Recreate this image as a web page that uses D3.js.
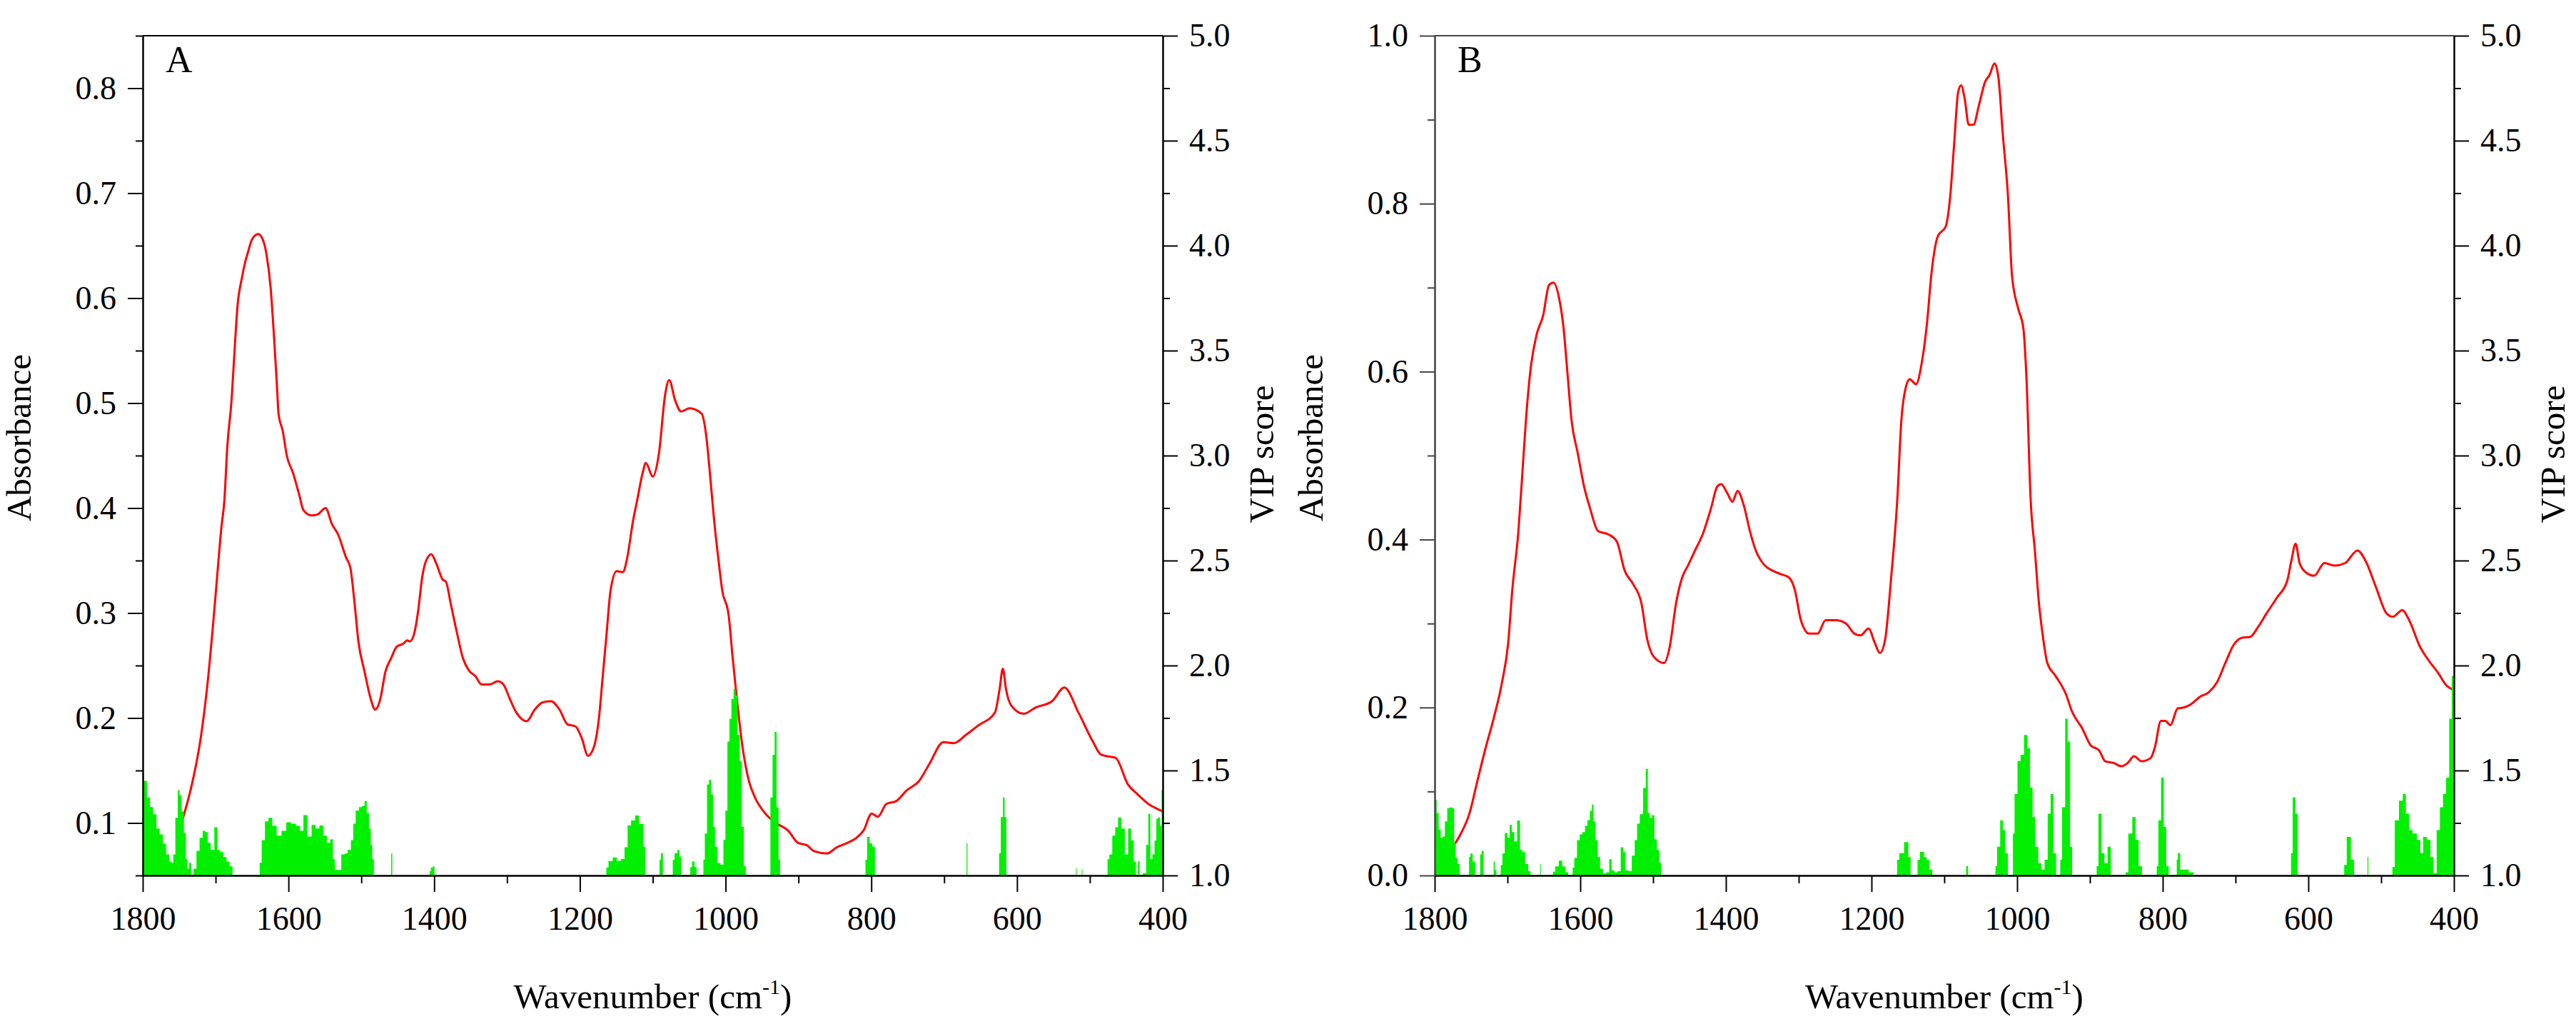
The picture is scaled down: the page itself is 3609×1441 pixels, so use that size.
<!DOCTYPE html>
<html>
<head>
<meta charset="utf-8">
<script src="https://d3js.org/d3.v7.min.js"></script>
<style>
  body { margin: 0; background: #fff; }
  text { font-family: "Liberation Serif", "Times New Roman", serif; }
</style>
</head>
<body>
<div id="chart"></div>
<script>
// ---- data: [wavenumber cm-1, value] ----
var specA = [[1752,0.088],[1743,0.109],[1734.5,0.131],[1720,0.183],[1709,0.247],[1703.5,0.289],[1698,0.334],[1692,0.382],[1688,0.407],[1684,0.458],[1678,0.504],[1674,0.550],[1670,0.592],[1664,0.619],[1659.5,0.634],[1655.5,0.644],[1650,0.656],[1641.5,0.661],[1636,0.657],[1630,0.641],[1624.5,0.610],[1620,0.565],[1616,0.519],[1613.5,0.489],[1608,0.474],[1602,0.449],[1594,0.434],[1585,0.412],[1579.5,0.398],[1568.5,0.393],[1560,0.394],[1549,0.400],[1540.5,0.385],[1532,0.375],[1521,0.353],[1515,0.343],[1509.5,0.311],[1504,0.273],[1495.5,0.244],[1487,0.218],[1481,0.208],[1474,0.218],[1467,0.244],[1459,0.257],[1451.5,0.268],[1442,0.271],[1437,0.274],[1433.5,0.273],[1428,0.279],[1422,0.302],[1416.5,0.334],[1411,0.350],[1404,0.356],[1397,0.347],[1388.5,0.332],[1384,0.330],[1377,0.308],[1369,0.282],[1360.5,0.257],[1352,0.245],[1343.5,0.240],[1335,0.232],[1324,0.232],[1312.5,0.235],[1305,0.232],[1296,0.218],[1287,0.205],[1273,0.197],[1262,0.208],[1251,0.215],[1239.5,0.216],[1228,0.208],[1217,0.194],[1206,0.192],[1197,0.180],[1189,0.164],[1180.5,0.173],[1173.5,0.202],[1169,0.237],[1163.5,0.279],[1158,0.321],[1149.5,0.340],[1141,0.339],[1135.5,0.351],[1127,0.388],[1121.5,0.407],[1114,0.433],[1109.5,0.443],[1100,0.430],[1091.5,0.452],[1083,0.508],[1077.5,0.522],[1069,0.502],[1061,0.492],[1049.5,0.495],[1033,0.490],[1027,0.471],[1021.5,0.433],[1016,0.390],[1010,0.352],[1004.5,0.321],[996,0.299],[990.5,0.259],[985,0.221],[976.5,0.171],[968,0.140],[959.5,0.124],[945.5,0.109],[928.5,0.099],[914.5,0.093],[900.5,0.081],[889,0.079],[878,0.073],[861,0.071],[847,0.077],[833,0.081],[822,0.085],[810.5,0.093],[799.5,0.109],[791,0.106],[779.5,0.118],[765.5,0.121],[751.5,0.131],[734.5,0.140],[720.5,0.156],[701,0.177],[687,0.176],[670,0.184],[653,0.193],[630.5,0.205],[624,0.227],[619.5,0.247],[615,0.227],[608,0.212],[591,0.204],[574.5,0.210],[552,0.216],[535,0.229],[515.5,0.205],[495.5,0.177],[484.5,0.165],[464.5,0.162],[448,0.137],[434,0.127],[419.5,0.118],[403,0.112],[400,0.111]];

var vipA = [[1800,1.485],[1796.5,1.451],[1792,1.372],[1788,1.326],[1783.5,1.292],[1779,1.224],[1774.5,1.196],[1770,1.151],[1766,1.100],[1761.5,1.066],[1759,1.060],[1757,1.100],[1753.5,1.275],[1750.5,1.406],[1748.5,1.383],[1745,1.304],[1742,1.202],[1739.5,1.077],[1737.5,1.032],[1735,1.060],[1732,1.003],[1728.5,1.032],[1724,1.117],[1720,1.179],[1715.5,1.213],[1712.5,1.207],[1709,1.156],[1704.5,1.122],[1699,1.230],[1696,1.122],[1691.5,1.111],[1687,1.088],[1683,1.066],[1678.5,1.043],[1675,1.0],
  [1640,1.0],[1639,1.060],[1634.5,1.168],[1630,1.258],[1625,1.275],[1619.5,1.236],[1613,1.190],[1606,1.213],[1600,1.253],[1593,1.247],[1586.5,1.236],[1582,1.213],[1577,1.287],[1571,1.185],[1565.5,1.241],[1560,1.224],[1555,1.238],[1549.5,1.190],[1545,1.156],[1540.5,1.173],[1537.5,1.077],[1535,1.026],[1530,1.026],[1525,1.100],[1521,1.105],[1516.5,1.122],[1512,1.168],[1510,1.247],[1505.5,1.309],[1501,1.326],[1497,1.332],[1494,1.355],[1491,1.298],[1488,1.224],[1486,1.145],[1484,1.077],[1481.5,1.0],
  [1459.5,1.0],[1458.5,1.105],[1456.5,1.0],
  [1406.5,1.0],[1406,1.02],[1403,1.037],[1400.5,1.043],[1398.5,1.0],
  [1164,1.0],[1163.5,1.037],[1158,1.069],[1152,1.086],[1146.5,1.069],[1141,1.078],[1136.5,1.134],[1132.5,1.238],[1127,1.262],[1121.5,1.286],[1116,1.246],[1114,1.247],[1111.5,1.137],[1108.5,1.0],
  [1091,1.0],[1090.5,1.075],[1087,1.106],[1085,1.0],
  [1073,1.0],[1072,1.075],[1068,1.106],[1064.5,1.122],[1062.5,1.09],[1059,1.0],
  [1049,1.0],[1048,1.04],[1044,1.066],[1041,1.04],[1038.5,1.0],
  [1031,1.0],[1030,1.075],[1027,1.200],[1024,1.434],[1021.5,1.456],[1018.5,1.387],[1016,1.231],[1013,1.137],[1009,1.059],[1004.5,1.05],[1001.5,1.169],[999,1.309],[996,1.638],[993.5,1.747],[990.5,1.841],[987.5,1.888],[985,1.857],[982,1.669],[979,1.544],[976.5,1.231],[973.5,1.044],[971,1.0],
  [940,1.0],[937,1.372],[934,1.575],[931.5,1.684],[928.5,1.325],[926,1.075],[924.5,1.0],
  [808.5,1.0],[807.5,1.075],[804,1.184],[800.5,1.153],[796.5,1.137],[793.5,1.0],
  [669.5,1.0],[669,1.153],[667,1.0],
  [625,1.0],[624,1.106],[620.5,1.278],[618,1.372],[616,1.278],[613.5,1.0],
  [519.5,1.0],[519,1.035],[517.5,1.0],[511.5,1.0],[511,1.03],[509.5,1.0],
  [476,1.0],[475.5,1.077],[471,1.10],[467.5,1.19],[463,1.23],[459.5,1.276],[454.5,1.224],[449.5,1.100],[445.5,1.224],[441.5,1.167],[438,1.066],[435.5,1.0],[432.5,1.068],[431,1.0],[424,1.011],[421.5,1.145],[418,1.293],[416,1.077],[412.5,1.100],[410,1.167],[407.5,1.270],[405,1.276],[402.5,1.236],[400.5,1.406],[400,1.406]];

var specB = [[1778,0.030],[1772,0.038],[1764,0.050],[1752.5,0.073],[1741.5,0.112],[1730,0.152],[1719,0.187],[1707.5,0.230],[1699,0.277],[1693.5,0.339],[1685,0.410],[1679.5,0.480],[1674,0.550],[1668,0.605],[1660,0.644],[1651,0.667],[1643,0.703],[1637,0.706],[1629,0.687],[1623,0.652],[1617.5,0.597],[1612,0.542],[1603.5,0.503],[1595,0.464],[1586.5,0.437],[1575.5,0.410],[1561,0.406],[1550,0.398],[1539,0.363],[1527.5,0.347],[1516,0.324],[1508,0.281],[1499.5,0.261],[1485,0.253],[1477,0.273],[1468.5,0.324],[1460,0.355],[1451.5,0.370],[1443,0.386],[1432,0.406],[1420.5,0.437],[1412,0.463],[1406.5,0.466],[1398,0.455],[1391,0.445],[1384,0.458],[1375.5,0.441],[1367,0.410],[1358.5,0.386],[1347.5,0.370],[1336,0.363],[1325,0.359],[1313.5,0.355],[1305,0.339],[1297,0.304],[1285.5,0.288],[1274,0.288],[1263,0.304],[1249,0.304],[1235,0.300],[1223.5,0.288],[1215,0.286],[1204,0.294],[1195.5,0.277],[1188.5,0.265],[1181.5,0.280],[1173,0.355],[1164.5,0.449],[1159,0.542],[1153,0.581],[1147.5,0.591],[1139,0.585],[1130.5,0.613],[1123.5,0.66],[1118,0.714],[1109,0.761],[1098,0.773],[1092,0.808],[1086.5,0.871],[1081,0.933],[1077,0.941],[1072,0.925],[1066.5,0.894],[1060,0.894],[1052.5,0.917],[1044,0.945],[1038,0.953],[1031,0.967],[1025.5,0.949],[1020,0.886],[1012.5,0.808],[1007,0.714],[998.5,0.675],[991.5,0.652],[987,0.589],[981.5,0.449],[975.5,0.386],[970,0.324],[964.5,0.284],[958.5,0.253],[947.5,0.238],[933,0.216],[924.5,0.195],[910.5,0.175],[899,0.155],[887.5,0.149],[879,0.136],[867.5,0.134],[856.5,0.130],[848,0.134],[839.5,0.142],[829,0.136],[816.5,0.140],[811,0.152],[802.5,0.184],[796.5,0.184],[789.5,0.179],[779.5,0.199],[771,0.200],[759.5,0.205],[748.5,0.213],[737,0.218],[725.5,0.230],[714,0.253],[703,0.274],[691.5,0.283],[680,0.284],[669,0.296],[657.5,0.312],[643,0.331],[629,0.351],[623.5,0.374],[617.5,0.395],[612,0.372],[603.5,0.361],[592,0.357],[578,0.372],[563.5,0.369],[549.5,0.372],[532.5,0.387],[521,0.374],[507,0.343],[492.5,0.312],[484,0.308],[471,0.316],[461.5,0.304],[447,0.273],[435.5,0.257],[421.5,0.241],[410,0.226],[403,0.222],[400,0.221]];

var vipB = [[1800,1.485],[1798.5,1.360],[1796,1.298],[1793,1.219],[1790.5,1.179],[1787.5,1.185],[1784.5,1.258],[1781,1.321],[1777.5,1.324],[1774.5,1.321],[1772,1.156],[1770,1.083],[1767,1.054],[1764,1.0],
  [1753,1.0],[1752.5,1.088],[1749.5,1.105],[1746,1.066],[1742.5,1.0],
  [1738,1.0],[1737,1.100],[1734,1.117],[1731.5,1.0],
  [1719.5,1.0],[1718.5,1.066],[1716,1.026],[1714.5,1.0],
  [1710,1.0],[1708.5,1.049],[1705.5,1.105],[1702,1.202],[1698.5,1.179],[1695.5,1.241],[1692.5,1.207],[1689,1.162],[1684.5,1.262],[1681,1.122],[1678,1.111],[1673.5,1.054],[1669.5,1.020],[1667,1.0],
  [1655.5,1.0],[1655,1.054],[1653.5,1.0],
  [1638,1.0],[1637,1.018],[1632,1.043],[1627,1.071],[1622.5,1.043],[1618,1.015],[1615,1.0],
  [1611,1.0],[1610,1.037],[1606.5,1.083],[1602.5,1.168],[1599,1.196],[1595,1.207],[1592,1.236],[1588.5,1.264],[1585,1.309],[1583,1.338],[1580.5,1.258],[1577.5,1.168],[1574.5,1.088],[1571,1.032],[1566.5,1.009],[1562,1.015],[1558.5,1.077],[1555.5,1.025],[1551,1.015],[1546.5,1.02],[1542.5,1.134],[1539.5,1.111],[1536,1.025],[1531.5,1.02],[1527,1.094],[1523.5,1.168],[1520.5,1.247],[1516,1.292],[1511.5,1.417],[1508.5,1.508],[1506,1.298],[1503,1.275],[1500,1.287],[1496.5,1.173],[1493,1.122],[1490,1.060],[1487.5,1.0],
  [1165,1.0],[1164.5,1.075],[1159,1.106],[1151.5,1.159],[1147.5,1.088],[1145,1.0],[1137,1.0],[1136.5,1.075],[1130.5,1.113],[1125,1.088],[1123.5,1.075],[1118,1.028],[1115,1.0],
  [1070.5,1.0],[1069.5,1.044],[1065,1.0],
  [1030,1.0],[1029.5,1.044],[1025.5,1.137],[1021,1.263],[1018,1.216],[1014.5,1.106],[1011,1.0],[1006,1.0],[1005.5,1.200],[1001.5,1.388],[997.5,1.544],[993,1.575],[988,1.669],[984,1.606],[980.5,1.419],[977,1.278],[973,1.137],[969,1.059],[964.5,1.028],[960,1.075],[956,1.294],[952,1.388],[948.5,1.106],[944.5,1.0],
  [941,1.0],[940.5,1.075],[936,1.325],[932,1.747],[929,1.638],[925.5,1.137],[923.5,1.0],
  [891,1.0],[890.5,1.044],[886,1.294],[882,1.106],[878,1.059],[873.5,1.137],[869,1.0],
  [851,1.0],[850.5,1.015],[844,1.200],[839.5,1.278],[835,1.169],[831,1.044],[826,1.0],
  [808.5,1.0],[808,1.044],[804,1.263],[800.5,1.466],[796.5,1.231],[794,1.044],[789.5,1.0],
  [781,1.0],[780.5,1.075],[778,1.106],[774,1.028],[768.5,1.028],[760,1.015],[755,1.0],
  [624,1.0],[623.5,1.106],[619.5,1.372],[616,1.294],[613,1.0],
  [551,1.0],[550.5,1.05],[544,1.184],[539,1.075],[535.5,1.0],
  [519,1.0],[518.5,1.088],[516.5,1.0],
  [485,1.0],[484,1.04],[478.5,1.263],[472.5,1.356],[468,1.388],[464,1.294],[459.5,1.216],[454,1.200],[448,1.169],[444.5,1.106],[440,1.184],[434.5,1.169],[430,1.088],[426,1.01],[421.5,1.216],[417,1.325],[413,1.388],[408.5,1.466],[404.5,1.747],[401.5,1.950],[400,1.950]];

// ---- ticks ----
var wnMajor = [1800, 1600, 1400, 1200, 1000, 800, 600, 400];
var wnMinor = [1700, 1500, 1300, 1100, 900, 700, 500];
var absAMajor = [0.1, 0.2, 0.3, 0.4, 0.5, 0.6, 0.7, 0.8];
var absAMinor = [0.05, 0.15, 0.25, 0.35, 0.45, 0.55, 0.65, 0.75, 0.85];
var absBMajor = [0.0, 0.2, 0.4, 0.6, 0.8, 1.0];
var absBMinor = [0.1, 0.3, 0.5, 0.7, 0.9];
var vipMajor = [1.0, 1.5, 2.0, 2.5, 3.0, 3.5, 4.0, 4.5, 5.0];
var vipMinor = [1.25, 1.75, 2.25, 2.75, 3.25, 3.75, 4.25, 4.75];

var W = 3609, H = 1441;
var plotTop = 50, plotBottom = 1226;
var fmt = d3.format('.1f');

var svg = d3.select('#chart').append('svg').attr('width', W).attr('height', H);

var styleAxis = function (sel, color) {
  sel.selectAll('path, line').attr('stroke', color || '#000').attr('stroke-width', 2);
  sel.selectAll('text').attr('fill', '#000').attr('font-size', 46);
};

var drawPanel = function (p) {
  var x = d3.scaleLinear().domain([1800, 400]).range([p.left, p.right]);
  var y = d3.scaleLinear().domain(p.absDomain).range([plotBottom, plotTop]);
  var yv = d3.scaleLinear().domain([1, 5]).range([plotBottom, plotTop]);
  var g = svg.append('g').classed('panel', true);

  g.append('path').datum(p.spec)
    .attr('fill', 'none').attr('stroke', '#ff0000').attr('stroke-width', 3)
    .attr('stroke-linejoin', 'round')
    .attr('d', d3.line().x(function (d) { return x(d[0]); }).y(function (d) { return y(d[1]); }).curve(d3.curveMonotoneX));

  g.append('path').datum(p.vip)
    .attr('fill', '#00f000').attr('stroke', 'none')
    .attr('d', d3.area().x(function (d) { return x(d[0]); }).y0(yv(1)).y1(function (d) { return yv(d[1]); }).curve(d3.curveStep));

  // frame
  g.append('line').attr('x1', p.left).attr('x2', p.right).attr('y1', plotTop).attr('y2', plotTop)
    .attr('stroke', p.frame).attr('stroke-width', 2);

  // bottom axis
  g.append('g').attr('transform', 'translate(0,' + plotBottom + ')')
    .call(d3.axisBottom(x).tickValues(wnMinor).tickSize(11).tickSizeOuter(0).tickFormat(''))
    .call(styleAxis);
  g.append('g').attr('transform', 'translate(0,' + plotBottom + ')')
    .call(d3.axisBottom(x).tickValues(wnMajor).tickSize(23).tickSizeOuter(0).tickPadding(20).tickFormat(d3.format('d')))
    .call(styleAxis);

  // left axis
  g.append('g').attr('transform', 'translate(' + p.left + ',0)')
    .call(d3.axisLeft(y).tickValues(p.absMinor).tickSize(10).tickSizeOuter(0).tickFormat(''))
    .call(styleAxis, p.frame);
  g.append('g').attr('transform', 'translate(' + p.left + ',0)')
    .call(d3.axisLeft(y).tickValues(p.absMajor).tickSize(21).tickSizeOuter(0).tickPadding(16).tickFormat(fmt))
    .call(styleAxis, p.frame);

  // right axis
  g.append('g').attr('transform', 'translate(' + p.right + ',0)')
    .call(d3.axisRight(yv).tickValues(vipMinor).tickSize(10).tickSizeOuter(0).tickFormat(''))
    .call(styleAxis);
  g.append('g').attr('transform', 'translate(' + p.right + ',0)')
    .call(d3.axisRight(yv).tickValues(vipMajor).tickSize(21).tickSizeOuter(0).tickPadding(16).tickFormat(fmt))
    .call(styleAxis);

  // labels
  g.append('text').text(p.name).attr('x', p.left + 32).attr('y', 101).attr('font-size', 52);

  g.append('text').text('Absorbance').attr('font-size', 49).attr('text-anchor', 'middle')
    .attr('transform', 'translate(' + (p.left - 157) + ',613) rotate(-90)');
  g.append('text').text('VIP score').attr('font-size', 49).attr('text-anchor', 'middle')
    .attr('transform', 'translate(' + (p.right + 155) + ',636) rotate(-90)');

  var xt = g.append('text').attr('font-size', 49).attr('text-anchor', 'middle')
    .attr('x', (p.left + p.right) / 2).attr('y', 1412);
  xt.append('tspan').text('Wavenumber (cm');
  xt.append('tspan').text('-1').attr('font-size', 30).attr('dy', -20);
  xt.append('tspan').text(')').attr('dy', 20);
};

drawPanel({ name: 'A', left: 200, right: 1629, absDomain: [0.05, 0.85], absMajor: absAMajor, absMinor: absAMinor, spec: specA, vip: vipA, frame: '#000' });
drawPanel({ name: 'B', left: 2010, right: 3438, absDomain: [0, 1], absMajor: absBMajor, absMinor: absBMinor, spec: specB, vip: vipB, frame: '#444' });
</script>
</body>
</html>
